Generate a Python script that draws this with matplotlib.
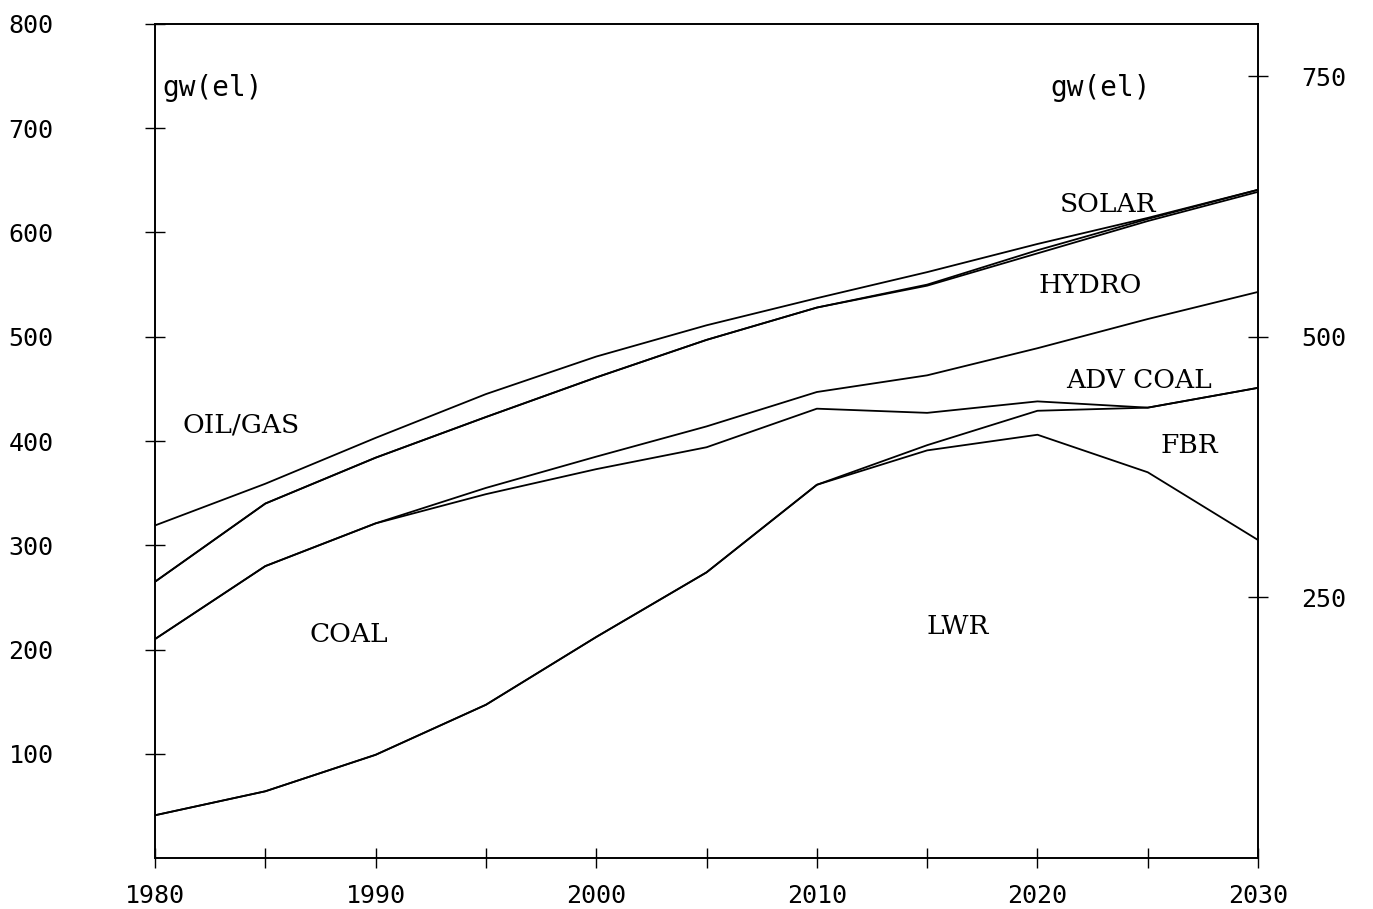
import numpy as np
import matplotlib
matplotlib.use('Agg')
import matplotlib.pyplot as plt

# years on the x axis
years = [1980, 1985, 1990, 1995, 2000, 2005, 2010, 2015, 2020, 2025, 2030]

# capacity by source, gw(el), stacked from the bottom up
lwr = [41, 64, 99, 147, 212, 274, 358, 391, 406, 370, 305]
fbr = [0, 0, 0, 0, 0, 0, 0, 5, 23, 62, 146]
coal = [169, 216, 222, 202, 161, 120, 73, 31, 9, 0, 0]
adv_coal = [0, 0, 0, 6, 12, 20, 16, 36, 51, 85, 92]
hydro = [55, 60, 63, 68, 76, 83, 81, 86, 91, 94, 96]
solar = [0, 0, 0, 0, 0, 0, 0, 1, 3, 2, 2]
oil_gas = [54, 19, 19, 22, 20, 14, 9, 12, 6, 1, 0]

left_ticks = [100, 200, 300, 400, 500, 600, 700, 800]
right_ticks = [250, 500, 750]
year_ticks = [1980, 1985, 1990, 1995, 2000, 2005, 2010, 2015, 2020, 2025, 2030]
year_labels = ['1980', '', '1990', '', '2000', '', '2010', '', '2020', '', '2030']

# region labels: text, x (year), y (gw)
region_labels = [
    ('OIL/GAS', 1983.9, 415),
    ('COAL', 1988.8, 214),
    ('LWR', 2016.4, 222),
    ('FBR', 2026.9, 396),
    ('ADV COAL', 2024.6, 458),
    ('HYDRO', 2022.4, 549),
    ('SOLAR', 2023.2, 627),
]

series = np.array([lwr, fbr, coal, adv_coal, hydro, solar, oil_gas])
tops = np.cumsum(series, axis=0)

fig = plt.figure(figsize=(13.73, 9.09), dpi=100)
ax = fig.add_axes([0.1129, 0.0561, 0.8034, 0.9175])

for row in tops:
    ax.plot(years, row, color='black', linewidth=1.3)

ax.set_xlim(1980, 2030)
ax.set_ylim(0, 800)

tick_font = {'family': 'DejaVu Sans Mono', 'size': 18}
ax.set_xticks(year_ticks)
ax.set_xticklabels(year_labels, fontdict=tick_font)
ax.set_yticks(left_ticks)
ax.set_yticklabels([str(v) for v in left_ticks], fontdict=tick_font, ha='left')
ax.tick_params(axis='both', direction='inout', length=14, width=1.0, color='black')
ax.tick_params(axis='y', pad=0)
ax.tick_params(axis='x', pad=12)
for lab in ax.get_yticklabels():
    lab.set_x(-0.124)

ax2 = ax.twinx()
ax2.set_ylim(0, 800)
ax2.set_yticks(right_ticks)
ax2.set_yticklabels([str(v) for v in right_ticks], fontdict=tick_font)
ax2.tick_params(axis='y', direction='inout', length=14, width=1.0, color='black', pad=24)

for a in (ax, ax2):
    for s in a.spines.values():
        s.set_linewidth(1.2)
        s.set_color('black')

for txt, x, y in region_labels:
    ax.text(x, y, txt, ha='center', va='center', fontsize=19,
            family='DejaVu Serif', color='black')

ax.text(1980.35, 739, 'gw(el)', ha='left', va='center', fontsize=20,
        family='DejaVu Sans Mono', color='black')
ax.text(2020.6, 739, 'gw(el)', ha='left', va='center', fontsize=20,
        family='DejaVu Sans Mono', color='black')

fig.savefig('out.png', dpi=100)
